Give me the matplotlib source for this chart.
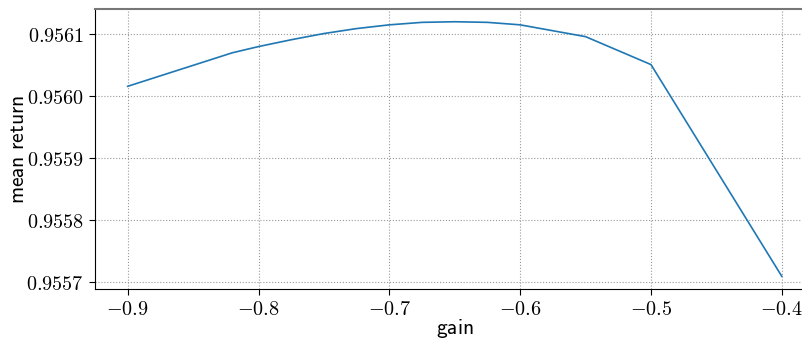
import matplotlib
matplotlib.use('Agg')
import matplotlib.pyplot as plt
from matplotlib.ticker import FuncFormatter, MultipleLocator

plt.rcParams['mathtext.fontset'] = 'cm'

# gain sweep vs mean return
gain = [-0.9, -0.82, -0.8, -0.775, -0.75, -0.725, -0.7, -0.675, -0.65,
        -0.625, -0.6, -0.55, -0.5, -0.4]
mean_return = [0.956016, 0.956070, 0.956080, 0.956091, 0.956101, 0.956109,
               0.956115, 0.956119, 0.956120, 0.956119, 0.956115, 0.956096,
               0.956051, 0.955710]

fig = plt.figure(figsize=(8.03, 3.40), dpi=100)
ax = fig.add_axes([0.1183, 0.15, 0.896, 0.8235])

ax.plot(gain, mean_return, color='#1f77b4', lw=1.2)

ax.xaxis.set_major_locator(MultipleLocator(0.1))
ax.yaxis.set_major_locator(MultipleLocator(0.0001))
ax.xaxis.set_major_formatter(FuncFormatter(lambda v, p: r'$%.1f$' % v))
ax.yaxis.set_major_formatter(FuncFormatter(lambda v, p: r'$%.4f$' % v))
ax.tick_params(labelsize=14.5, length=4, width=0.8, pad=4)

ax.grid(True, ls=':', color='#999999', lw=0.8)

ax.set_xlabel(r'$\mathsf{gain}$', fontsize=15.5, labelpad=-1.5)
ax.set_ylabel(r'$\mathsf{mean\ return}$', fontsize=15.5, labelpad=-1.5)

ax.spines['top'].set_color('#777777')
ax.spines['top'].set_linewidth(1.5)
ax.spines['right'].set_color('#777777')

fig.savefig('out.png', dpi=100)
